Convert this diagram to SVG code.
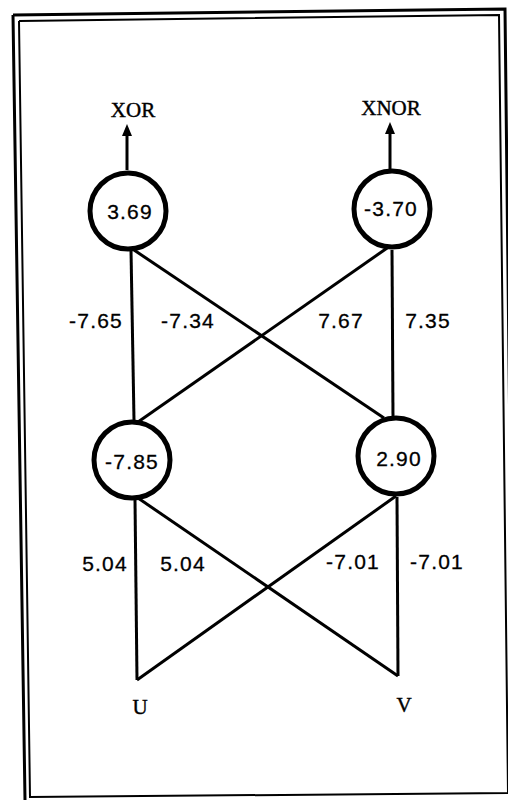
<svg xmlns="http://www.w3.org/2000/svg" width="508" height="800" viewBox="0 0 508 800">
<style>
.frame{fill:none;stroke:#000}
.node{fill:#fff;stroke:#000;stroke-width:5}
.edge{stroke:#000;stroke-width:3;fill:none}
.val{font-family:"Liberation Sans",Arial,sans-serif;font-size:21px;letter-spacing:1.2px;text-anchor:middle;fill:#000;stroke:#000;stroke-width:0.3}
.lbl{font-family:"Liberation Serif","Times New Roman",serif;font-size:21px;text-anchor:middle;fill:#000;stroke:#000;stroke-width:0.4}
</style>
<g id="frame">
<path class="frame" stroke-width="3" d="M13,15 L505,9 L514,800 M13,15 L25,800"/>
<path class="frame" stroke-width="2" d="M19,21 L499,15 L508,793 L30,797 L19,21"/>
</g>
<g id="connectors">
<line class="edge" x1="131" y1="250" x2="134" y2="420"/>
<line class="edge" x1="134" y1="250" x2="384" y2="418"/>
<line class="edge" x1="390" y1="246" x2="138" y2="422"/>
<line class="edge" x1="392" y1="250" x2="393" y2="417"/>
<line class="edge" x1="135" y1="500" x2="137" y2="680"/>
<line class="edge" x1="138" y1="498" x2="398" y2="676"/>
<line class="edge" x1="396" y1="496" x2="137" y2="680"/>
<line class="edge" x1="397" y1="497" x2="398" y2="676"/>
<line class="edge" x1="127" y1="170" x2="127" y2="131"/>
<path d="M127,124 L122,136 L132,136 Z" fill="#000"/>
<line class="edge" x1="390" y1="170" x2="390" y2="129"/>
<path d="M390,122 L385,134 L395,134 Z" fill="#000"/>
</g>
<g id="labels">
<text class="val" x="96" y="328">-7.65</text>
<text class="val" x="188" y="328">-7.34</text>
<text class="val" x="341" y="328">7.67</text>
<text class="val" x="428" y="328">7.35</text>
<text class="val" x="105" y="571">5.04</text>
<text class="val" x="183" y="571">5.04</text>
<text class="val" x="353" y="569">-7.01</text>
<text class="val" x="437" y="569">-7.01</text>
</g>
<g id="out-xor">
<text class="lbl" x="133" y="117">XOR</text>
</g>
<g id="out-xnor">
<text class="lbl" x="391" y="115">XNOR</text>
</g>
<g id="node-xor">
<circle class="node" cx="128" cy="211" r="38"/>
<text class="val" x="130" y="219">3.69</text>
</g>
<g id="node-xnor">
<circle class="node" cx="392" cy="209" r="38"/>
<text class="val" x="391" y="216">-3.70</text>
</g>
<g id="node-h1">
<circle class="node" cx="132" cy="460" r="38"/>
<text class="val" x="132" y="469">-7.85</text>
</g>
<g id="node-h2">
<circle class="node" cx="396" cy="456" r="38"/>
<text class="val" x="399" y="466">2.90</text>
</g>
<g id="input-u">
<text class="lbl" x="140" y="714">U</text>
</g>
<g id="input-v">
<text class="lbl" x="404" y="712">V</text>
</g>
</svg>
